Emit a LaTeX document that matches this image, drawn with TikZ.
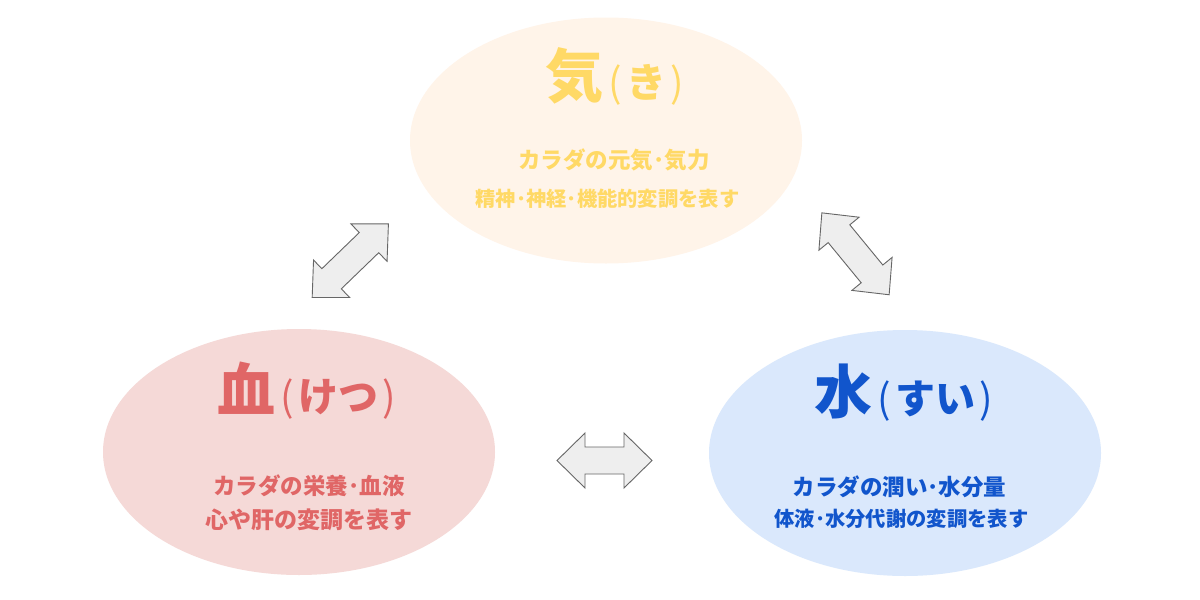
\documentclass[tikz,border=0pt]{standalone}
\usepackage{fontspec}
\newfontfamily\cjk{Noto Sans CJK JP}
\usetikzlibrary{shapes.geometric}
\definecolor{kifill}{HTML}{FFF4E9}
\definecolor{ketsufill}{HTML}{F5D9D7}
\definecolor{suifill}{HTML}{DAE8FC}
\definecolor{kitext}{HTML}{FFD966}
\definecolor{ketsutext}{HTML}{E06666}
\definecolor{suitext}{HTML}{1155CC}
\definecolor{arrfill}{HTML}{EEEEEE}
\definecolor{arrline}{HTML}{666666}
\newcommand\dbarrow[7]{%
  \draw[arrowbox, shift={(#1,#2)}, rotate=#3]
    ({-#4/2},0) -- ({-#4/2+#5},#6) -- ({-#4/2+#5},#7) -- ({#4/2-#5},#7)
    -- ({#4/2-#5},#6) -- ({#4/2},0) -- ({#4/2-#5},{-#6}) -- ({#4/2-#5},{-#7})
    -- ({-#4/2+#5},{-#7}) -- ({-#4/2+#5},{-#6}) -- cycle;}
\newcommand\bigT[2]{{\bfseries\fontsize{58}{58}\selectfont #1}\hspace{5pt}{\fontsize{40}{40}\selectfont (\hspace{5pt}{\bfseries #2}\hspace{4pt})}}
\begin{document}
\begin{tikzpicture}[x=1pt,y=-1pt,
  oval/.style={ellipse, minimum width=392pt, minimum height=246pt, inner sep=0pt, draw=none},
  txt/.style={inner sep=0pt, anchor=base, font=\cjk\bfseries},
  ttl/.style={inner sep=0pt, anchor=base west, font=\cjk},
  sub/.style={txt, font=\cjk\bfseries\fontsize{22.5}{22.5}\selectfont},
  subs/.style={txt, font=\cjk\bfseries\fontsize{20.3}{20.3}\selectfont},
  subl/.style={txt, font=\cjk\bfseries\fontsize{23}{23}\selectfont},
  arrowbox/.style={draw=arrline, fill=arrfill, line width=0.9pt, line join=miter}]
\useasboundingbox (0,0) rectangle (1200,600);
\fill[white] (0,0) rectangle (1200,600);
% ellipses
\node[oval, fill=kifill] (ki) at (606,140.5) {};
\node[oval, fill=ketsufill] (ketsu) at (299,452) {};
\node[oval, fill=suifill] (sui) at (905,453) {};
% titles
\node[ttl, text=kitext] (kiT) at (545,97) {\bigT{気}{き}};
\node[ttl, text=ketsutext] (ketsuT) at (217,411) {\bigT{血}{けつ}};
\node[ttl, text=suitext] (suiT) at (814,413) {\bigT{水}{すい}};
% subtitles
\node[sub, text=kitext] (ki1) at (614,168.5) {カラダの元気･気力};
\node[subs, text=kitext] (ki2) at (607.5,206.5) {精神･神経･機能的変調を表す};
\node[sub, text=ketsutext] (ketsu1) at (309,494.5) {カラダの栄養･血液};
\node[subl, text=ketsutext] (ketsu2) at (309,528) {心や肝の変調を表す};
\node[sub, text=suitext] (sui1) at (899.5,495.5) {カラダの潤い･水分量};
\node[subs, text=suitext] (sui2) at (901.5,526) {体液･水分代謝の変調を表す};
% double arrows
\dbarrow{350.3}{260.7}{44}{106}{27}{26}{14}
\dbarrow{855.5}{253.8}{-50.6}{106}{27}{26}{14}
\dbarrow{604.5}{460.5}{0}{95}{28}{27.5}{13.5}
\end{tikzpicture}
\end{document}
